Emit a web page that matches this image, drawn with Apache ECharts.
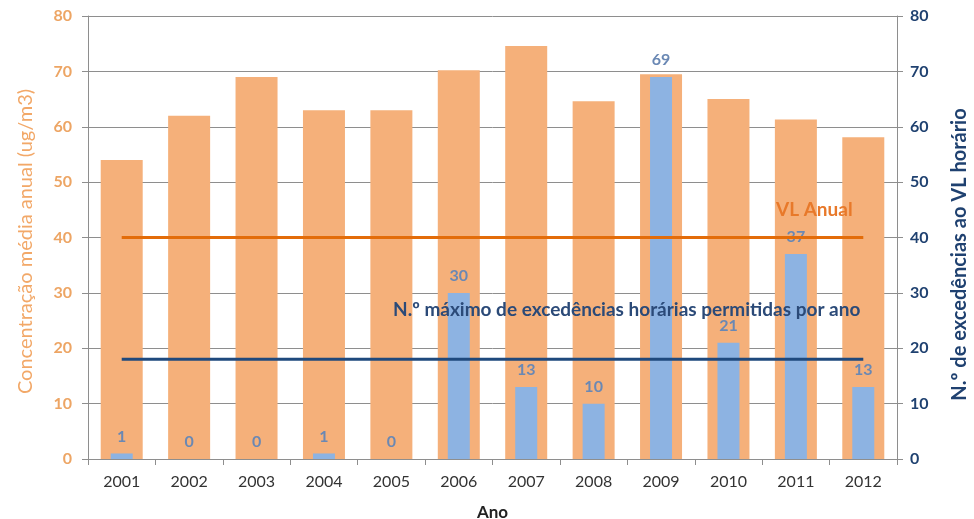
<!DOCTYPE html>
<html><head><meta charset="utf-8">
<script src="https://cdn.jsdelivr.net/npm/echarts@6/dist/echarts.min.js"></script>
<style>html,body{margin:0;padding:0;background:#fff;overflow:hidden;width:974px;height:519px}#c{width:974px;height:519px;display:block}</style>
</head><body><div id="c"></div>
<script>
const anos = ['2001','2002','2003','2004','2005','2006','2007','2008','2009','2010','2011','2012'];
const concentracao = [54, 62, 69, 63, 63, 70.2, 74.6, 64.6, 69.5, 65, 61.3, 58.1];
const excedencias = [1, 0, 0, 1, 0, 30, 13, 10, 69, 21, 37, 13];
const vlAnual = [40, 40, 40, 40, 40, 40, 40, 40, 40, 40, 40, 40];
const maxExced = [18, 18, 18, 18, 18, 18, 18, 18, 18, 18, 18, 18];
const yTicks = [0, 10, 20, 30, 40, 50, 60, 70, 80];

const FONT = 'Lato, "Open Sans", sans-serif';
const chart = echarts.init(document.getElementById('c'));
const gridColor = '#8e8e8e';
chart.setOption({
  animation: false,
  textStyle: { fontFamily: FONT },
  grid: { left: 88, right: 77, top: 16, bottom: 60, containLabel: false, outerBoundsMode: 'none' },
  xAxis: [{
    type: 'category', data: anos, boundaryGap: true,
    name: 'Ano', nameLocation: 'middle', nameGap: 45,
    nameTextStyle: { color: '#222', fontSize: 17, fontWeight: 'bold', fontFamily: FONT },
    axisLine: { lineStyle: { color: gridColor, width: 1 } },
    axisTick: { show: true, alignWithLabel: false, length: 6, lineStyle: { color: gridColor } },
    axisLabel: { color: '#333', fontSize: 16, margin: 15, fontFamily: FONT }
  }, {
    type: 'category', data: anos, show: false, boundaryGap: true
  }],
  yAxis: [{
    type: 'value', min: yTicks[0], max: yTicks[yTicks.length - 1], interval: 10,
    name: 'Concentração média anual (ug/m3)', nameLocation: 'middle', nameGap: 52, nameRotate: 90,
    nameTextStyle: { color: '#F2A868', fontSize: 20, fontFamily: FONT, padding: [0, 8, 0, 0] },
    axisLine: { show: true, lineStyle: { color: gridColor } },
    axisTick: { show: true, length: 6, lineStyle: { color: gridColor } },
    axisLabel: { color: '#EDA564', fontSize: 16, fontWeight: 'bold', margin: 16, fontFamily: FONT },
    splitLine: { lineStyle: { color: gridColor, width: 1 } }
  }, {
    type: 'value', min: yTicks[0], max: yTicks[yTicks.length - 1], interval: 10, position: 'right',
    name: 'N.º de excedências ao VL horário', nameLocation: 'middle', nameGap: 53, nameRotate: 90,
    nameTextStyle: { color: '#1F4170', fontSize: 20, fontWeight: 'bold', fontFamily: FONT, padding: [0, 34, 0, 0] },
    axisLine: { show: true, lineStyle: { color: gridColor } },
    axisTick: { show: true, length: 6, lineStyle: { color: gridColor } },
    axisLabel: { color: '#1F4170', fontSize: 16, fontWeight: 'bold', margin: 13, fontFamily: FONT },
    splitLine: { show: false }
  }],
  series: [{
    type: 'bar', data: concentracao, xAxisIndex: 0, yAxisIndex: 0, barWidth: 42,
    itemStyle: { color: '#F5B07A' }, z: 2
  }, {
    type: 'bar', data: excedencias, xAxisIndex: 1, yAxisIndex: 1, barWidth: 22,
    itemStyle: { color: '#8DB3E2' }, z: 3,
    label: { show: true, position: 'top', distance: 9, color: '#6A88B4', fontSize: 16, fontWeight: 'bold', fontFamily: FONT }
  }, {
    type: 'line', data: vlAnual, xAxisIndex: 0, yAxisIndex: 0, symbol: 'none',
    lineStyle: { color: '#E36C09', width: 3 }, z: 4
  }, {
    type: 'line', data: maxExced, xAxisIndex: 0, yAxisIndex: 1, symbol: 'none',
    lineStyle: { color: '#1F497D', width: 3 }, z: 4
  }],
  graphic: [{
    type: 'text', left: 776, top: 200, z: 10,
    style: { text: 'VL Anual', fill: '#E8792A', font: 'bold 19px ' + FONT }
  }, {
    type: 'text', left: 393, top: 300, z: 10,
    style: { text: 'N.º máximo de excedências horárias permitidas por ano', fill: '#2B4A78', font: 'bold 19px ' + FONT }
  }]
});
</script></body></html>
